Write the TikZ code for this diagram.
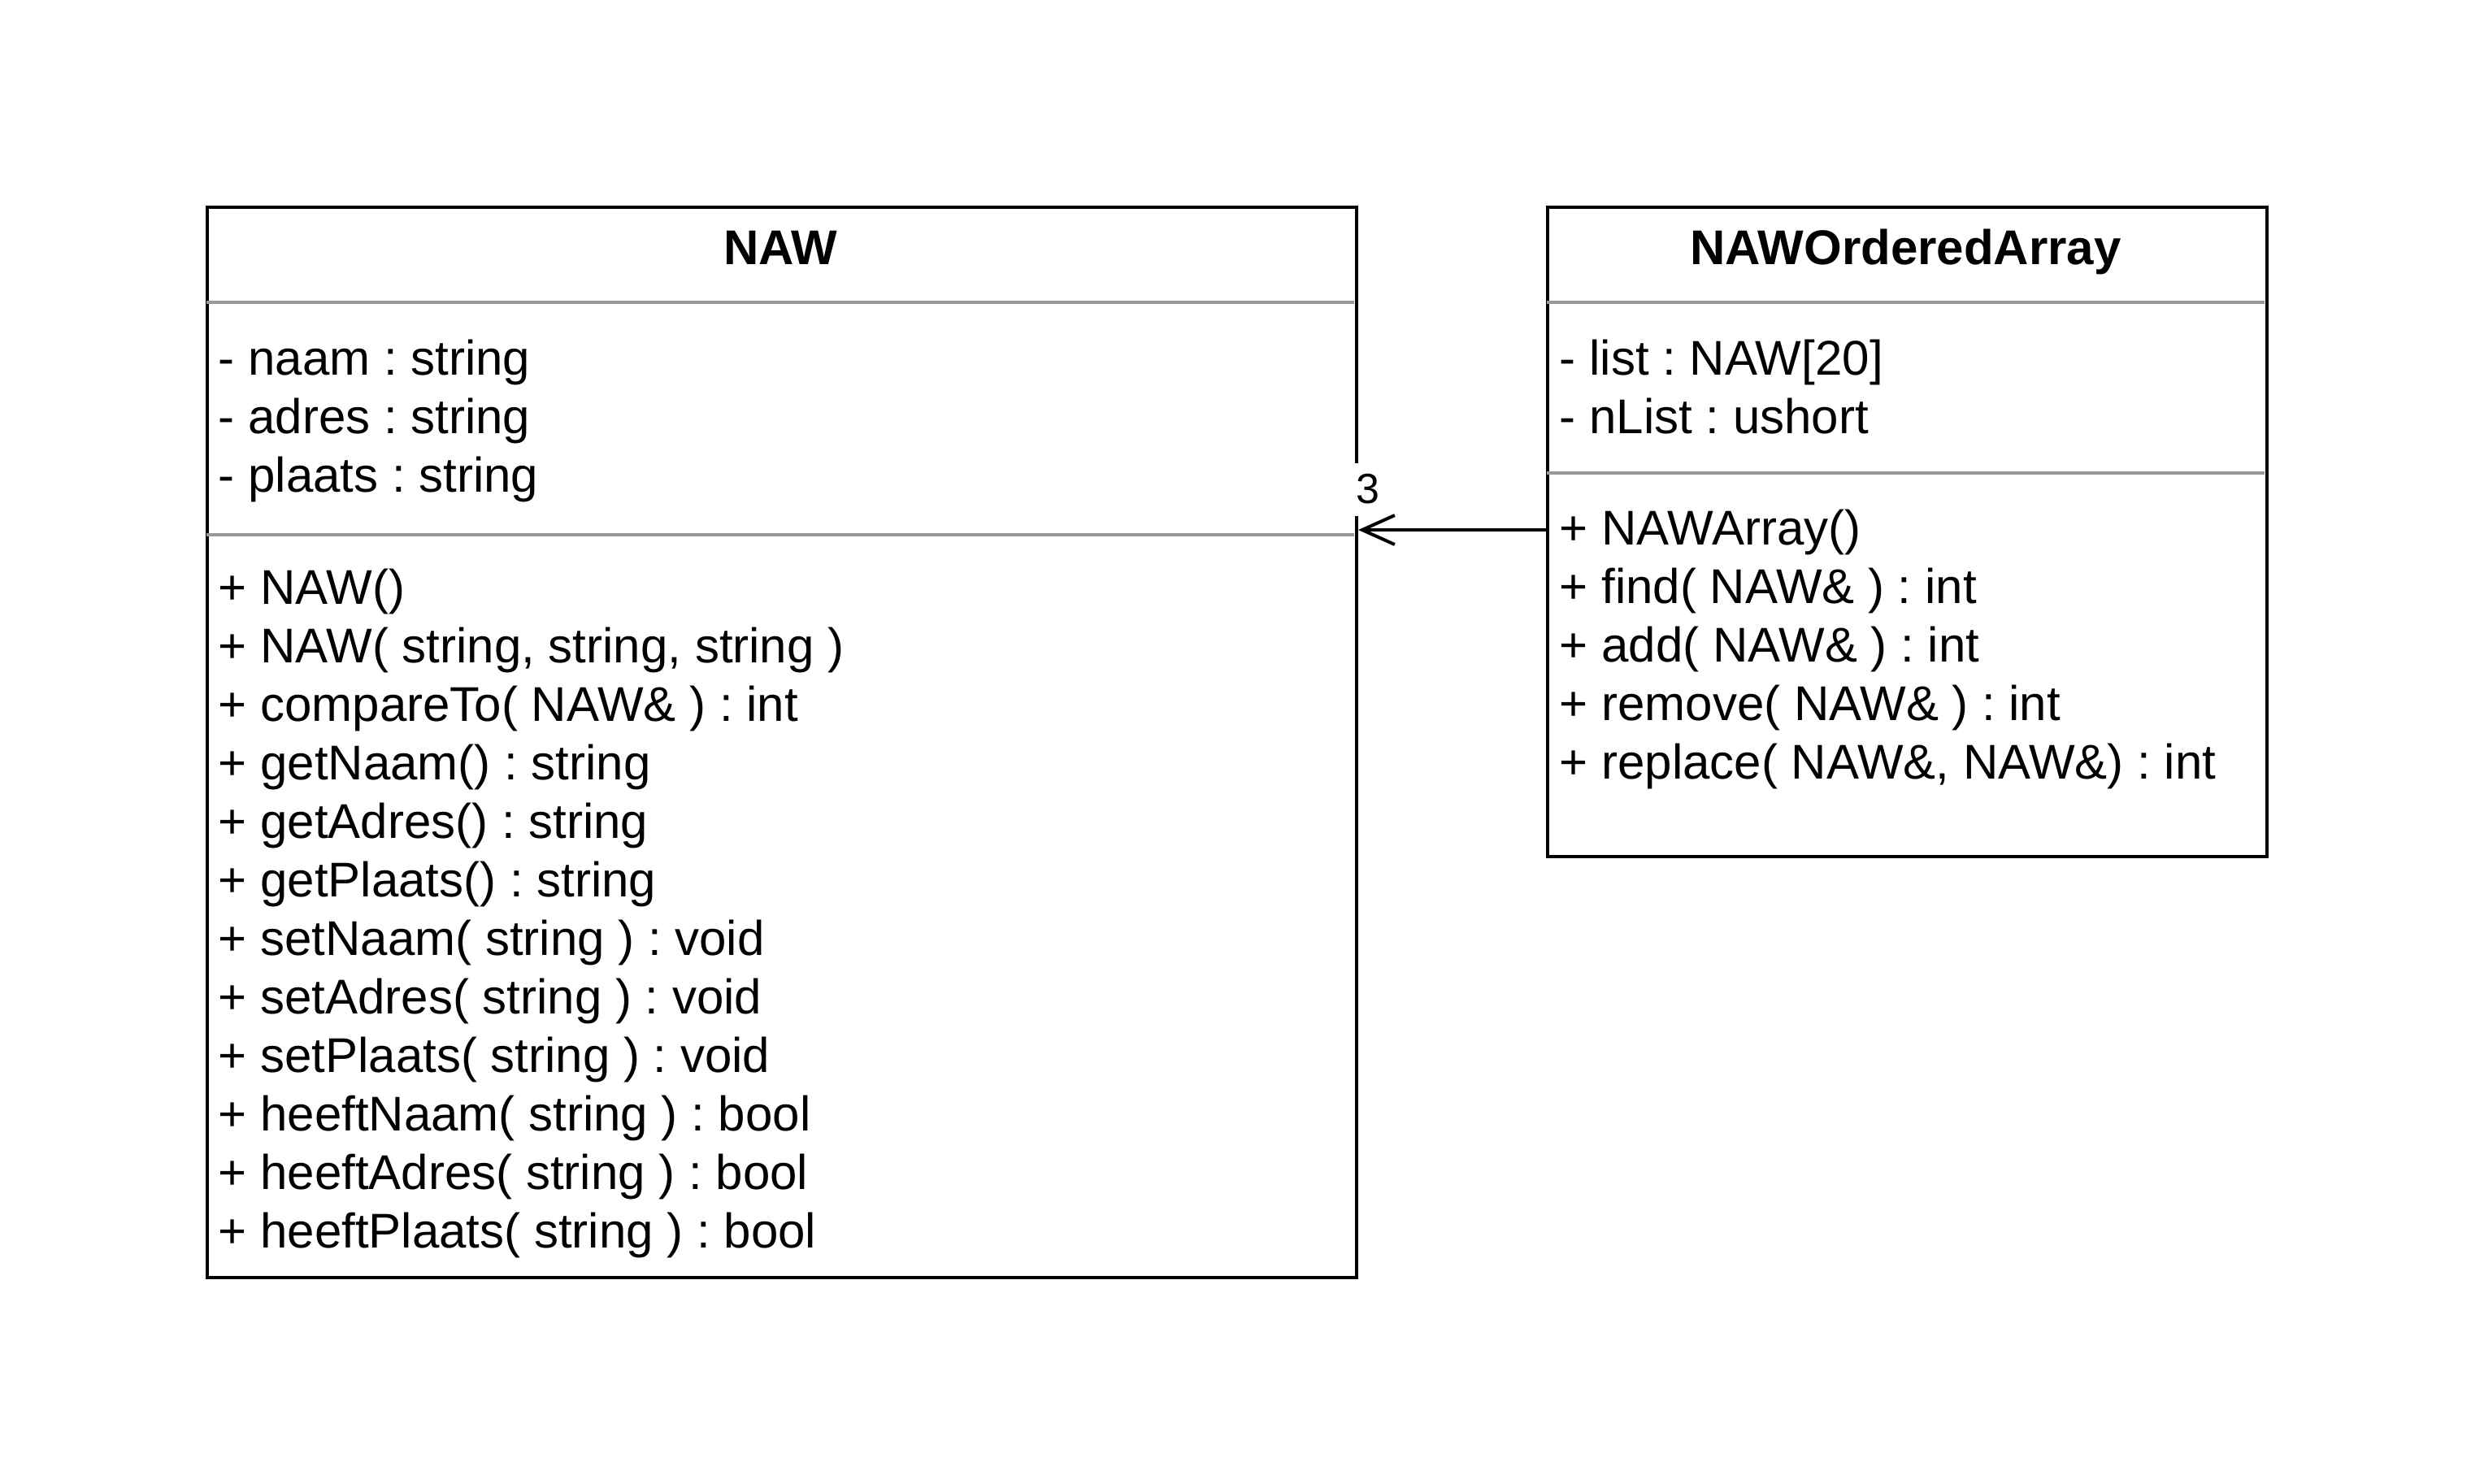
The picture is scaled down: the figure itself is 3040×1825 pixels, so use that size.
\documentclass[tikz,border=0pt]{standalone}
\usepackage{fontspec}
\setmainfont{Liberation Sans}
\frenchspacing
\usetikzlibrary{arrows.meta}
\definecolor{sepgray}{RGB}{153,153,153}

\begin{document}
\begin{tikzpicture}[x=0.25pt, y=-0.25pt,
    classbox/.style={draw=black, line width=1pt, inner sep=0pt, anchor=north west},
    classname/.style={font=\fontsize{15pt}{18pt}\selectfont\bfseries, inner sep=0pt, anchor=base},
    members/.style={font=\fontsize{15pt}{18pt}\selectfont, align=left, inner sep=0pt, anchor=base west},
    sepline/.style={draw=sepgray, line width=1pt},
    multlabel/.style={font=\fontsize{13pt}{15pt}\selectfont, fill=white, inner sep=0pt, minimum width=10pt, minimum height=16.25pt}]
  \useasboundingbox (0,0) rectangle (3040,1825);
  % class NAW
  \node[classbox, minimum width=353.5pt, minimum height=329.25pt] (naw) at (253,253) {};
  \node[classname] (naw-name) at (960,325) {NAW};
  \draw[sepline] (254,372) -- (1666,372);
  \draw[sepline] (254,658) -- (1666,658);
  % anchor = baseline of the last line
  \node[members] (naw-attr) at (268,605) {- naam : string\\- adres : string\\- plaats : string};
  \node[members] (naw-ops) at (268,1535) {+ NAW()\\+ NAW( string, string, string )\\+ compareTo( NAW\& ) : int\\+ getNaam() : string\\+ getAdres() : string\\+ getPlaats() : string\\+ setNaam( string ) : void\\+ setAdres( string ) : void\\+ setPlaats( string ) : void\\+ heeftNaam( string ) : bool\\+ heeftAdres( string ) : bool\\+ heeftPlaats( string ) : bool};
  % class NAWOrderedArray
  \node[classbox, minimum width=221.25pt, minimum height=199.75pt] (ordered) at (1902,253) {};
  \node[classname] (ordered-name) at (2344.5,325) {NAWOrderedArray};
  \draw[sepline] (1903,372) -- (2786,372);
  \draw[sepline] (1903,582) -- (2786,582);
  \node[members] (ordered-attr) at (1918,533) {- list : NAW[20]\\- nList : ushort};
  \node[members] (ordered-ops) at (1918,958) {+ NAWArray()\\+ find( NAW\& ) : int\\+ add( NAW\& ) : int\\+ remove( NAW\& ) : int\\+ replace( NAW\&, NAW\&) : int};
  % association
  \coordinate (assoc) at (1784,652);
  \node[multlabel] (mult) at (1683,602) {3};
  \draw[line width=1pt, -{Straight Barb[length=10pt, width=9pt]}] (ordered.west |- assoc) -- (naw.east |- assoc);
\end{tikzpicture}
\end{document}
